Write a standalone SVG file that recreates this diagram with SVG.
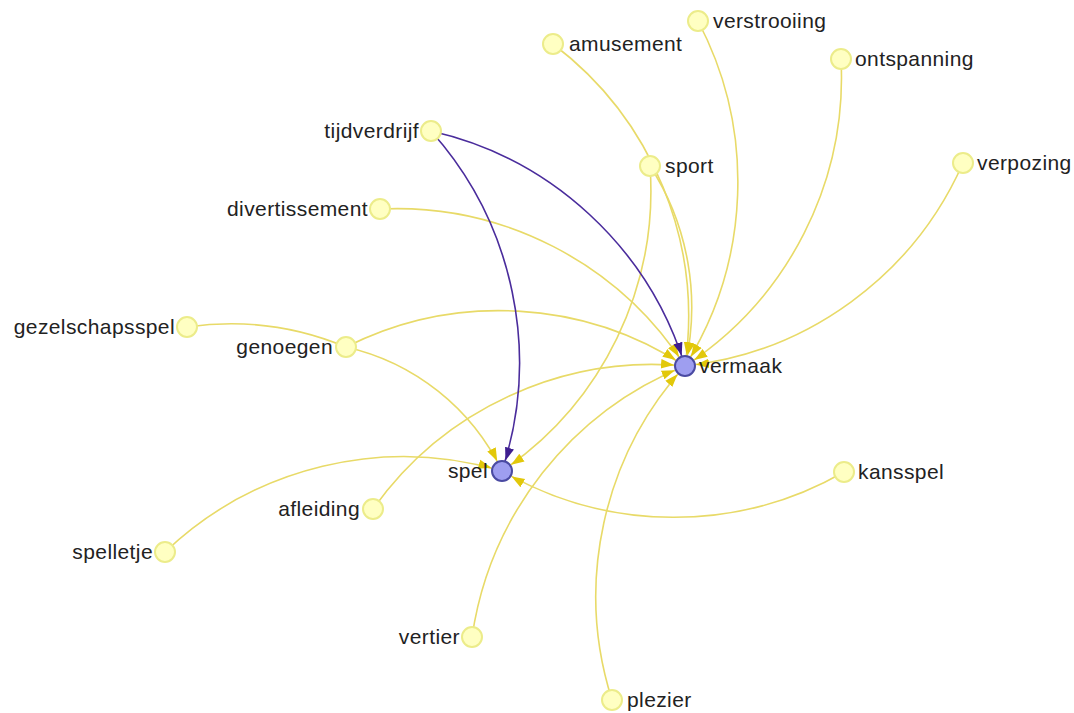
<svg xmlns="http://www.w3.org/2000/svg" width="1074" height="713" viewBox="0 0 1074 713">
<style>
.link{fill:none;stroke:#e8da68;stroke-width:1.6}
.link.p{stroke:#4a2c9c}
.node circle{fill:#ffffc2;stroke:#ecec8a;stroke-width:2}
.node.main circle{fill:#9e9ef0;stroke:#4a4aa2}
.node text{font-family:"Liberation Sans",Arial,sans-serif;font-size:21px;letter-spacing:0.4px;fill:#222}
.l text{text-anchor:end}
</style>
<defs>
<marker id="ay" viewBox="0 -5 10 10" refX="18.5" refY="0" markerWidth="13" markerHeight="13" markerUnits="userSpaceOnUse" orient="auto"><path d="M0,-3.6L10,0L0,3.6Z" fill="#e2c80a"/></marker>
<marker id="ap" viewBox="0 -5 10 10" refX="18.5" refY="0" markerWidth="13" markerHeight="13" markerUnits="userSpaceOnUse" orient="auto"><path d="M0,-3.6L10,0L0,3.6Z" fill="#3e1e90"/></marker>
</defs>
<rect width="1074" height="713" fill="#fff"/>
<g id="connectors">
<path class="link" marker-end="url(#ay)" d="M553,44A342,342 0 0,1 685,366"/>
<path class="link" marker-end="url(#ay)" d="M698,21A346,346 0 0,1 685,366"/>
<path class="link" marker-end="url(#ay)" d="M841,59A345,345 0 0,1 685,366"/>
<path class="link" marker-end="url(#ay)" d="M963,163A344,344 0 0,1 685,366"/>
<path class="link" marker-end="url(#ay)" d="M650,166A260,260 0 0,1 685,366"/>
<path class="link" marker-end="url(#ay)" d="M650,166A339,339 0 0,1 502,471"/>
<path class="link" marker-end="url(#ay)" d="M380,209A343,343 0 0,1 685,366"/>
<path class="link" marker-end="url(#ay)" d="M346,347A340,340 0 0,1 685,366"/>
<path class="link" marker-end="url(#ay)" d="M346,347A230,230 0 0,1 502,471"/>
<path class="link" d="M187,327A300,300 0 0,1 346,347"/>
<path class="link" marker-end="url(#ay)" d="M373,509A343,343 0 0,1 685,366"/>
<path class="link" marker-end="url(#ay)" d="M472,637A346,346 0 0,1 685,366"/>
<path class="link" marker-end="url(#ay)" d="M612,700A342,342 0 0,1 685,366"/>
<path class="link" marker-end="url(#ay)" d="M165,552A346,346 0 0,1 502,471"/>
<path class="link" marker-end="url(#ay)" d="M844,472A342,342 0 0,1 502,471"/>
<path class="link p" marker-end="url(#ap)" d="M431,131A346,346 0 0,1 685,366"/>
<path class="link p" marker-end="url(#ap)" d="M431,131A347,347 0 0,1 502,471"/>
</g>
<g id="n-tijdverdrijf" class="node l"><circle cx="431" cy="131" r="10"/><text x="419" y="138">tijdverdrijf</text></g>
<g id="n-amusement" class="node"><circle cx="553" cy="44" r="10"/><text x="569" y="51">amusement</text></g>
<g id="n-verstrooiing" class="node"><circle cx="698" cy="21" r="10"/><text x="713" y="28">verstrooiing</text></g>
<g id="n-ontspanning" class="node"><circle cx="841" cy="59" r="10"/><text x="855" y="66">ontspanning</text></g>
<g id="n-sport" class="node"><circle cx="650" cy="166" r="10"/><text x="665" y="173">sport</text></g>
<g id="n-verpozing" class="node"><circle cx="963" cy="163" r="10"/><text x="977" y="170">verpozing</text></g>
<g id="n-divertissement" class="node l"><circle cx="380" cy="209" r="10"/><text x="368" y="216">divertissement</text></g>
<g id="n-gezelschapsspel" class="node l"><circle cx="187" cy="327" r="10"/><text x="175" y="334">gezelschapsspel</text></g>
<g id="n-genoegen" class="node l"><circle cx="346" cy="347" r="10"/><text x="333" y="354">genoegen</text></g>
<g id="n-vermaak" class="node main"><circle cx="685" cy="366" r="10"/><text x="699" y="373">vermaak</text></g>
<g id="n-spel" class="node main l"><circle cx="502" cy="471" r="10"/><text x="488" y="478">spel</text></g>
<g id="n-kansspel" class="node"><circle cx="844" cy="472" r="10"/><text x="858" y="479">kansspel</text></g>
<g id="n-afleiding" class="node l"><circle cx="373" cy="509" r="10"/><text x="360" y="516">afleiding</text></g>
<g id="n-spelletje" class="node l"><circle cx="165" cy="552" r="10"/><text x="153" y="559">spelletje</text></g>
<g id="n-vertier" class="node l"><circle cx="472" cy="637" r="10"/><text x="460" y="644">vertier</text></g>
<g id="n-plezier" class="node"><circle cx="612" cy="700" r="10"/><text x="627" y="707">plezier</text></g>
</svg>
